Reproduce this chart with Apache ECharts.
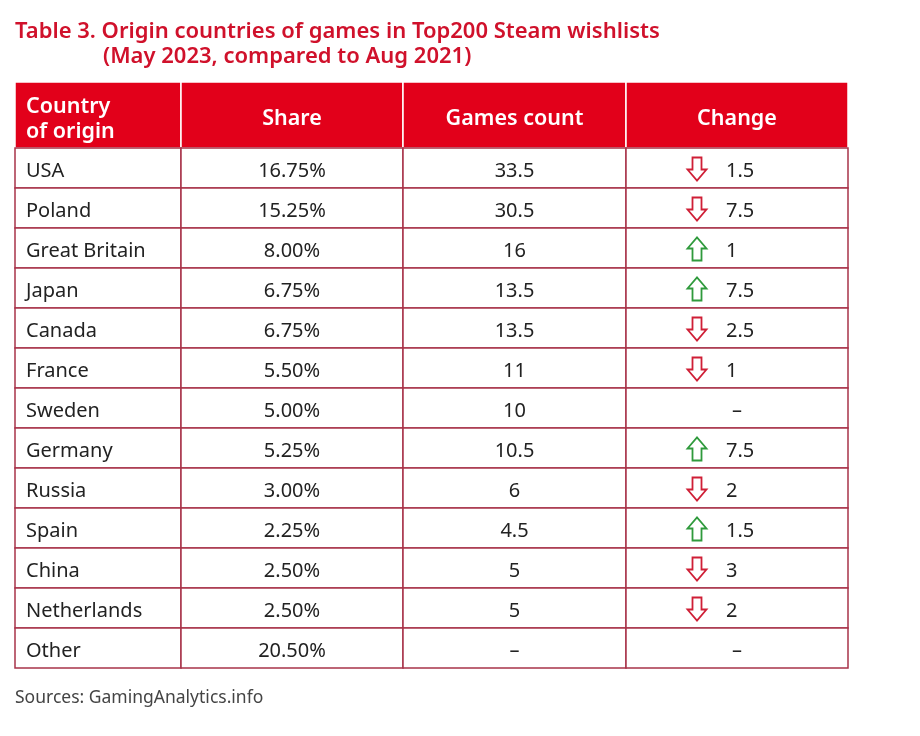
<!DOCTYPE html>
<html>
<head>
<meta charset="utf-8">
<script src="https://cdn.jsdelivr.net/npm/echarts@6/dist/echarts.min.js"></script>
<style>html,body{margin:0;padding:0;background:#fff}#c{width:920px;height:736px}</style>
</head>
<body>
<div id="c"></div>
<script>
const headers = ['Country\nof origin', 'Share', 'Games count', 'Change'];
const countries = ['USA','Poland','Great Britain','Japan','Canada','France','Sweden','Germany','Russia','Spain','China','Netherlands','Other'];
const shares = ['16.75%','15.25%','8.00%','6.75%','6.75%','5.50%','5.00%','5.25%','3.00%','2.25%','2.50%','2.50%','20.50%'];
const gamesCount = [33.5, 30.5, 16, 13.5, 13.5, 11, 10, 10.5, 6, 4.5, 5, 5, null];
const changeDir = ['down','down','up','up','down','down',null,'up','down','up','down','down',null];
const changeValue = [1.5, 7.5, 1, 7.5, 2.5, 1, null, 7.5, 2, 1.5, 3, 2, null];

// layout config (not data)
const colWidths = [166, 222, 223, 222];
const headerH = 66, rowH = 40;
const colEdges = [0];
colWidths.forEach(w => colEdges.push(colEdges[colEdges.length - 1] + w));
const totalW = colEdges[colEdges.length - 1];
const totalH = headerH + rowH * countries.length;

const FONT = '"Noto Sans", "Open Sans", sans-serif';
const RED = '#e2001a', BORDER = '#a8334a', TXT = '#222';

function fmt(v) { return v == null ? '–' : String(v); }

const cells = [];
for (let c = 0; c < headers.length; c++) cells.push([c, -1]);
for (let r = 0; r < countries.length; r++) for (let c = 0; c < headers.length; c++) cells.push([c, r]);

function cellText(c, r) {
  if (r < 0) return headers[c];
  if (c === 0) return countries[r];
  if (c === 1) return shares[r];
  if (c === 2) return fmt(gamesCount[r]);
  return fmt(changeValue[r]);
}

function renderItem(params, api) {
  const c = api.value(0), r = api.value(1);
  const x0 = colEdges[c], x1 = colEdges[c + 1];
  const y0 = r < 0 ? 0 : headerH + r * rowH;
  const y1 = r < 0 ? headerH : y0 + rowH;
  const p0 = api.coord([x0, y0]), p1 = api.coord([x1, y1]);
  const w = p1[0] - p0[0], h = p1[1] - p0[1];
  const cy = p0[1] + h / 2;
  const children = [];
  const isHeader = r < 0;
  children.push({
    type: 'rect',
    shape: { x: p0[0], y: p0[1], width: w, height: h },
    style: isHeader ? { fill: RED, stroke: '#fff', lineWidth: 1.5 } : { fill: '#fff', stroke: BORDER, lineWidth: 1.5 },
    z2: isHeader ? 1 : 2
  });
  const txt = cellText(c, r);
  let tx, align;
  if (c === 0) { tx = p0[0] + 11; align = 'left'; }
  else { tx = p0[0] + w / 2; align = 'center'; }
  if (!isHeader && c === 3 && changeDir[r]) {
    tx = p0[0] + 100; align = 'left';
    const ax = p0[0] + 71, ay = cy + 1;
    const up = changeDir[r] === 'up';
    const s = up ? -1 : 1;
    const pts = [[ax - 4.5, ay - 11.5 * s], [ax + 4.5, ay - 11.5 * s], [ax + 4.5, ay + 0.5 * s], [ax + 9.5, ay + 0.5 * s], [ax, ay + 11.5 * s], [ax - 9.5, ay + 0.5 * s], [ax - 4.5, ay + 0.5 * s]];
    children.push({
      type: 'polygon',
      shape: { points: pts },
      style: { fill: '#fff', stroke: up ? '#2f9a3c' : '#cf1f36', lineWidth: 1.8 },
      z2: 5
    });
  }
  children.push({
    type: 'text',
    style: {
      text: txt, x: tx, y: cy + (isHeader ? 4 : 3), align: align, verticalAlign: 'middle',
      fill: isHeader ? '#fff' : TXT,
      font: (isHeader ? '600 21.5px ' : '20px ') + FONT,
      lineHeight: 25
    },
    z2: 6
  });
  return { type: 'group', children: children };
}

const chart = echarts.init(document.getElementById('c'), null, { renderer: 'canvas' });
chart.setOption({
  backgroundColor: '#fff',
  animation: false,
  title: [
    { text: 'Table 3. Origin countries of games in Top200 Steam wishlists', left: 15, top: 21, padding: 0,
      textStyle: { color: '#d0112b', fontSize: 22, fontWeight: 600, fontFamily: FONT } },
    { text: '(May 2023, compared to Aug 2021)', left: 103, top: 46, padding: 0,
      textStyle: { color: '#d0112b', fontSize: 22, fontWeight: 600, fontFamily: FONT } },
    { text: 'Sources: GamingAnalytics.info', left: 15, top: 689, padding: 0,
      textStyle: { color: '#444', fontSize: 17.5, fontWeight: 'normal', fontFamily: FONT } }
  ],
  grid: { left: 15, top: 82, width: totalW, height: totalH },
  xAxis: { type: 'value', min: 0, max: totalW, show: false },
  yAxis: { type: 'value', min: 0, max: totalH, inverse: true, show: false },
  series: [{
    type: 'custom',
    renderItem: renderItem,
    data: cells,
    silent: true
  }]
});
</script>
</body>
</html>
